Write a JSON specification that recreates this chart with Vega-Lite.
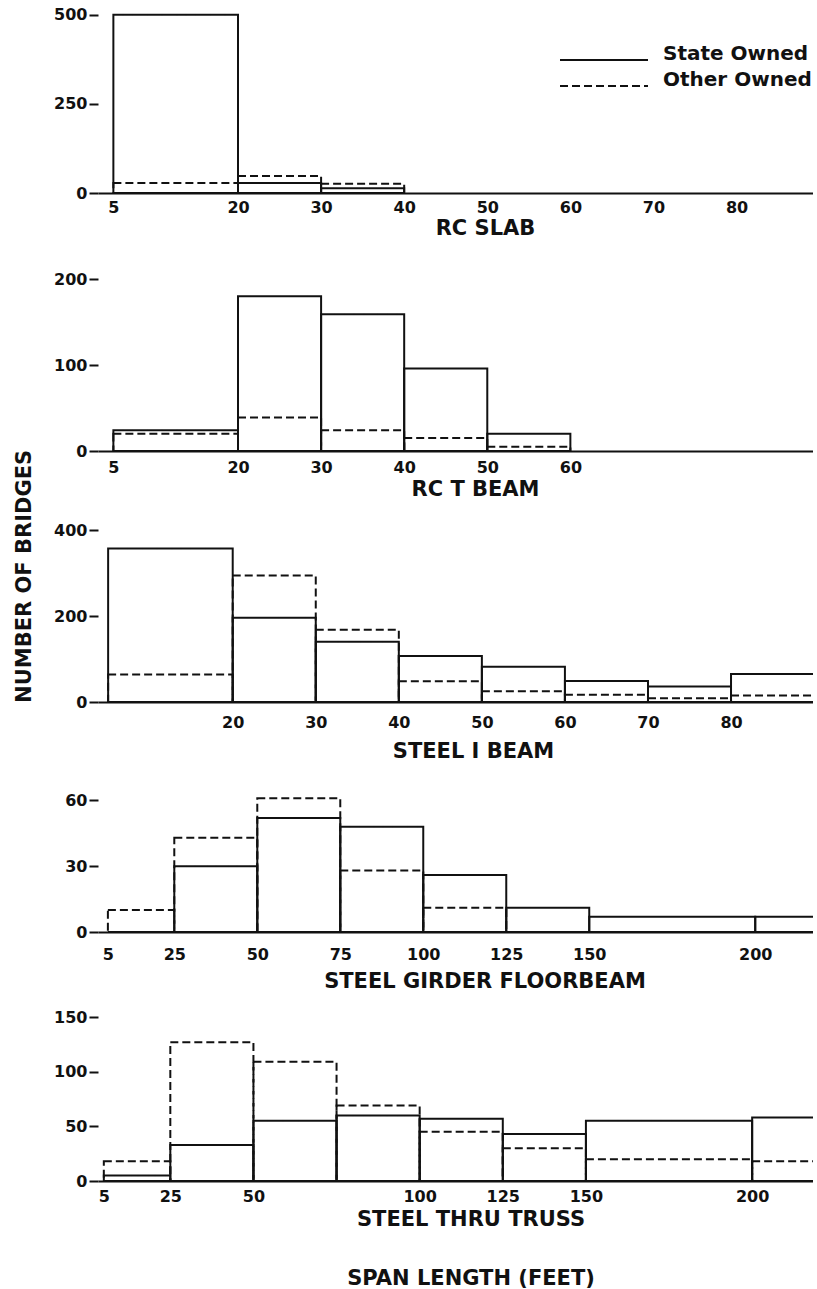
{
  "$schema": "https://vega.github.io/schema/vega-lite/v6.json",
  "background": "white",
  "padding": {"left": 13, "top": 6, "right": 0, "bottom": 0},
  "spacing": 10,
  "title": {"text": "NUMBER OF BRIDGES", "orient": "left", "anchor": "middle", "font": "DejaVu Sans", "fontSize": 21, "fontWeight": "bold", "color": "#111", "offset": 13, "dx": 71},
  "config": {
    "view": {"stroke": null},
    "axis": {"labelFont": "DejaVu Sans", "labelFontWeight": "bold", "labelFontSize": 16, "labelColor": "#111", "titleFont": "DejaVu Sans", "titleFontWeight": "bold", "titleFontSize": 21, "titleColor": "#111", "grid": false, "domainColor": "#111", "domainWidth": 2, "tickColor": "#111", "tickWidth": 2},
    "axisX": {"ticks": false, "labelFlush": false, "labelOverlap": false, "titleAlign": "center", "titleBaseline": "alphabetic", "maxExtent": 200},
    "axisY": {"domain": false, "tickSize": 9, "labelPadding": 2, "minExtent": 50, "maxExtent": 50, "title": null},
    "legend": {"symbolType": "M0,6H88", "symbolSize": 4, "symbolStrokeWidth": 2, "symbolStrokeColor": "#111", "symbolFillColor": "transparent", "labelOffset": 93, "labelFont": "DejaVu Sans", "labelFontWeight": "bold", "labelFontSize": 20, "labelColor": "#111", "rowPadding": 6, "padding": 0, "labelLimit": 400}
  },
  "resolve": {"scale": {"x": "independent", "y": "independent"}},
  "vconcat": [
    {
      "width": 715, "height": 180,
      "data": {"values": [
        {"start": 5, "end": 20, "owner": "Other Owned", "count": 28},
        {"start": 20, "end": 30, "owner": "Other Owned", "count": 48},
        {"start": 30, "end": 40, "owner": "Other Owned", "count": 26},
        {"start": 5, "end": 20, "owner": "State Owned", "count": 500},
        {"start": 20, "end": 30, "owner": "State Owned", "count": 28},
        {"start": 30, "end": 40, "owner": "State Owned", "count": 13}
      ]},
      "mark": {"type": "bar", "fill": "transparent", "stroke": "#111", "strokeWidth": 2, "clip": true},
      "encoding": {
        "x": {"field": "start", "type": "quantitative", "scale": {"domain": [3.15, 89.2], "nice": false, "zero": false},
              "axis": {"values": [5, 20, 30, 40, 50, 60, 70, 80], "labelPadding": 6, "minExtent": 68, "title": "RC SLAB", "titleX": 387, "titleY": 41}},
        "x2": {"field": "end"},
        "y": {"field": "count", "type": "quantitative", "stack": null, "scale": {"domain": [0, 505], "nice": false}, "axis": {"values": [0, 250, 500]}},
        "y2": {"datum": 0},
        "strokeDash": {"field": "owner", "type": "nominal", "scale": {"domain": ["State Owned", "Other Owned"], "range": [[1, 0], [8, 4]]},
                       "legend": {"orient": "none", "legendX": 452, "legendY": 31, "title": null}}
      }
    },
    {
      "width": 715, "height": 172,
      "data": {"values": [
        {"start": 5, "end": 20, "owner": "Other Owned", "count": 20},
        {"start": 20, "end": 30, "owner": "Other Owned", "count": 39},
        {"start": 30, "end": 40, "owner": "Other Owned", "count": 24},
        {"start": 40, "end": 50, "owner": "Other Owned", "count": 15},
        {"start": 50, "end": 60, "owner": "Other Owned", "count": 5},
        {"start": 5, "end": 20, "owner": "State Owned", "count": 24},
        {"start": 20, "end": 30, "owner": "State Owned", "count": 180},
        {"start": 30, "end": 40, "owner": "State Owned", "count": 159},
        {"start": 40, "end": 50, "owner": "State Owned", "count": 96},
        {"start": 50, "end": 60, "owner": "State Owned", "count": 20}
      ]},
      "mark": {"type": "bar", "fill": "transparent", "stroke": "#111", "strokeWidth": 2, "clip": true},
      "encoding": {
        "x": {"field": "start", "type": "quantitative", "scale": {"domain": [3.15, 89.2], "nice": false, "zero": false},
              "axis": {"values": [5, 20, 30, 40, 50, 60], "labelPadding": 8, "minExtent": 61, "title": "RC T BEAM", "titleX": 377, "titleY": 44}},
        "x2": {"field": "end"},
        "y": {"field": "count", "type": "quantitative", "stack": null, "scale": {"domain": [0, 200], "nice": false}, "axis": {"values": [0, 100, 200]}},
        "y2": {"datum": 0},
        "strokeDash": {"field": "owner", "type": "nominal", "scale": {"domain": ["State Owned", "Other Owned"], "range": [[1, 0], [8, 4]]},
                       "legend": {"orient": "none", "legendX": 452, "legendY": 31, "title": null}}
      }
    },
    {
      "width": 715, "height": 172,
      "data": {"values": [
        {"start": 5, "end": 20, "owner": "Other Owned", "count": 64},
        {"start": 20, "end": 30, "owner": "Other Owned", "count": 294},
        {"start": 30, "end": 40, "owner": "Other Owned", "count": 168},
        {"start": 40, "end": 50, "owner": "Other Owned", "count": 48},
        {"start": 50, "end": 60, "owner": "Other Owned", "count": 25},
        {"start": 60, "end": 70, "owner": "Other Owned", "count": 17},
        {"start": 70, "end": 80, "owner": "Other Owned", "count": 9},
        {"start": 80, "end": 90, "owner": "Other Owned", "count": 15},
        {"start": 5, "end": 20, "owner": "State Owned", "count": 357},
        {"start": 20, "end": 30, "owner": "State Owned", "count": 196},
        {"start": 30, "end": 40, "owner": "State Owned", "count": 140},
        {"start": 40, "end": 50, "owner": "State Owned", "count": 107},
        {"start": 50, "end": 60, "owner": "State Owned", "count": 82},
        {"start": 60, "end": 70, "owner": "State Owned", "count": 49},
        {"start": 70, "end": 80, "owner": "State Owned", "count": 36},
        {"start": 80, "end": 90, "owner": "State Owned", "count": 65}
      ]},
      "mark": {"type": "bar", "fill": "transparent", "stroke": "#111", "strokeWidth": 2, "clip": true},
      "encoding": {
        "x": {"field": "start", "type": "quantitative", "scale": {"domain": [3.78, 89.87], "nice": false, "zero": false},
              "axis": {"values": [20, 30, 40, 50, 60, 70, 80], "labelPadding": 12, "minExtent": 80, "title": "STEEL I BEAM", "titleX": 375, "titleY": 55}},
        "x2": {"field": "end"},
        "y": {"field": "count", "type": "quantitative", "stack": null, "scale": {"domain": [0, 400], "nice": false}, "axis": {"values": [0, 200, 400]}},
        "y2": {"datum": 0},
        "strokeDash": {"field": "owner", "type": "nominal", "scale": {"domain": ["State Owned", "Other Owned"], "range": [[1, 0], [8, 4]]},
                       "legend": {"orient": "none", "legendX": 452, "legendY": 31, "title": null}}
      }
    },
    {
      "width": 715, "height": 136,
      "data": {"values": [
        {"start": 5, "end": 25, "owner": "Other Owned", "count": 10},
        {"start": 25, "end": 50, "owner": "Other Owned", "count": 43},
        {"start": 50, "end": 75, "owner": "Other Owned", "count": 61},
        {"start": 75, "end": 100, "owner": "Other Owned", "count": 28},
        {"start": 100, "end": 125, "owner": "Other Owned", "count": 11},
        {"start": 125, "end": 150, "owner": "Other Owned", "count": 0},
        {"start": 150, "end": 200, "owner": "Other Owned", "count": 0},
        {"start": 200, "end": 225, "owner": "Other Owned", "count": 0},
        {"start": 5, "end": 25, "owner": "State Owned", "count": 0},
        {"start": 25, "end": 50, "owner": "State Owned", "count": 30},
        {"start": 50, "end": 75, "owner": "State Owned", "count": 52},
        {"start": 75, "end": 100, "owner": "State Owned", "count": 48},
        {"start": 100, "end": 125, "owner": "State Owned", "count": 26},
        {"start": 125, "end": 150, "owner": "State Owned", "count": 11},
        {"start": 150, "end": 200, "owner": "State Owned", "count": 7},
        {"start": 200, "end": 225, "owner": "State Owned", "count": 7}
      ]},
      "mark": {"type": "bar", "fill": "transparent", "stroke": "#111", "strokeWidth": 2, "clip": true},
      "encoding": {
        "x": {"field": "start", "type": "quantitative", "scale": {"domain": [2.02, 217.4], "nice": false, "zero": false},
              "axis": {"values": [5, 25, 50, 75, 100, 125, 150, 200], "labelPadding": 14, "minExtent": 67, "title": "STEEL GIRDER FLOORBEAM", "titleX": 386.5, "titleY": 55}},
        "x2": {"field": "end"},
        "y": {"field": "count", "type": "quantitative", "stack": null, "scale": {"domain": [0, 62], "nice": false}, "axis": {"values": [0, 30, 60]}},
        "y2": {"datum": 0},
        "strokeDash": {"field": "owner", "type": "nominal", "scale": {"domain": ["State Owned", "Other Owned"], "range": [[1, 0], [8, 4]]},
                       "legend": {"orient": "none", "legendX": 452, "legendY": 31, "title": null}}
      }
    },
    {
      "width": 715, "height": 164,
      "data": {"values": [
        {"start": 5, "end": 25, "owner": "Other Owned", "count": 18},
        {"start": 25, "end": 50, "owner": "Other Owned", "count": 127},
        {"start": 50, "end": 75, "owner": "Other Owned", "count": 109},
        {"start": 75, "end": 100, "owner": "Other Owned", "count": 69},
        {"start": 100, "end": 125, "owner": "Other Owned", "count": 45},
        {"start": 125, "end": 150, "owner": "Other Owned", "count": 30},
        {"start": 150, "end": 200, "owner": "Other Owned", "count": 20},
        {"start": 200, "end": 225, "owner": "Other Owned", "count": 18},
        {"start": 5, "end": 25, "owner": "State Owned", "count": 5},
        {"start": 25, "end": 50, "owner": "State Owned", "count": 33},
        {"start": 50, "end": 75, "owner": "State Owned", "count": 55},
        {"start": 75, "end": 100, "owner": "State Owned", "count": 60},
        {"start": 100, "end": 125, "owner": "State Owned", "count": 57},
        {"start": 125, "end": 150, "owner": "State Owned", "count": 43},
        {"start": 150, "end": 200, "owner": "State Owned", "count": 55},
        {"start": 200, "end": 225, "owner": "State Owned", "count": 58}
      ]},
      "mark": {"type": "bar", "fill": "transparent", "stroke": "#111", "strokeWidth": 2, "clip": true},
      "encoding": {
        "x": {"field": "start", "type": "quantitative", "scale": {"domain": [3.25, 218.3], "nice": false, "zero": false},
              "axis": {"values": [5, 25, 50, 100, 125, 150, 200], "labelPadding": 7, "title": ["STEEL THRU TRUSS", "SPAN LENGTH (FEET)"], "titleLineHeight": 59, "titleX": 372.5, "titleY": 44}},
        "x2": {"field": "end"},
        "y": {"field": "count", "type": "quantitative", "stack": null, "scale": {"domain": [0, 150], "nice": false}, "axis": {"values": [0, 50, 100, 150]}},
        "y2": {"datum": 0},
        "strokeDash": {"field": "owner", "type": "nominal", "scale": {"domain": ["State Owned", "Other Owned"], "range": [[1, 0], [8, 4]]},
                       "legend": {"orient": "none", "legendX": 452, "legendY": 31, "title": null}}
      }
    }
  ]
}
